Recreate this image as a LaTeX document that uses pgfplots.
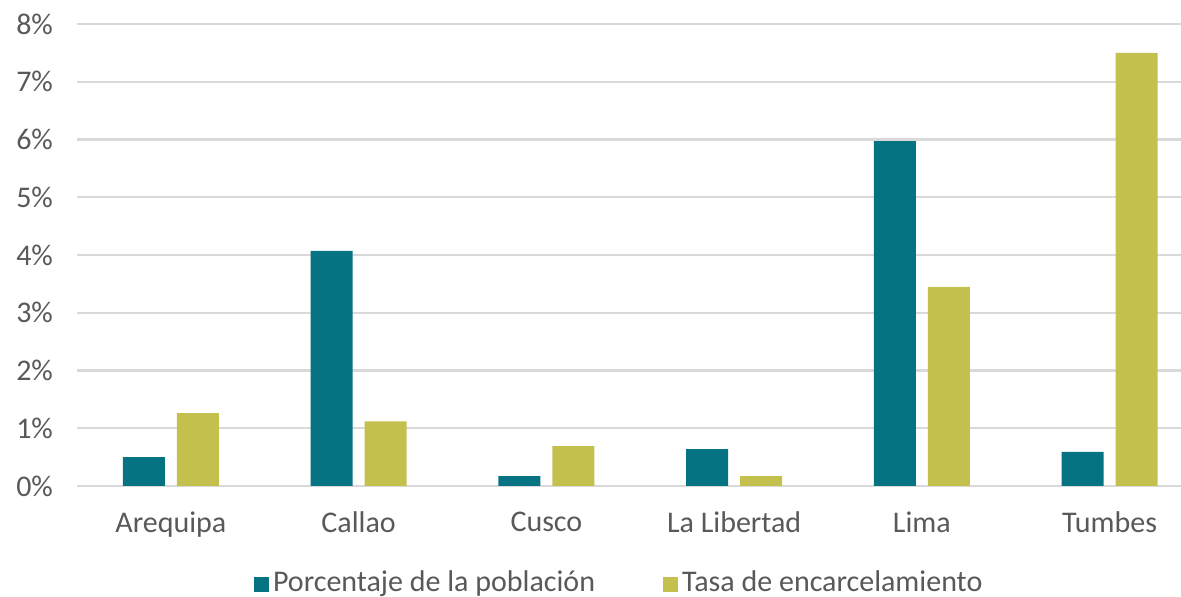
\documentclass[border=0pt]{standalone}
\usepackage{fontspec}
\setmainfont{Carlito}
\usepackage{pgfplots}
\pgfplotsset{compat=1.18}

\definecolor{teal}{RGB}{6,115,130}
\definecolor{olive}{RGB}{195,192,78}
\definecolor{txt}{RGB}{89,89,89}
\definecolor{gridc}{RGB}{217,217,217}

\begin{document}
\begin{tikzpicture}
\begin{axis}[
    name=ax,
    scale only axis,
    width=552pt, height=231pt,
    xmin=-0.5, xmax=5.38, ymin=0, ymax=8,
    axis line style={draw=none},
    xtick={0,...,5},
    xticklabels={Arequipa, Callao, Cusco, La Libertad, Lima, Tumbes},
    ytick={0,...,8},
    yticklabel={\pgfmathprintnumber{\tick}\%},
    /pgf/number format/assume math mode=true,
    major tick length=0pt,
    ymajorgrids, grid style={gridc, line width=1.2pt},
    ticklabel style={font=\fontsize{15}{18}\selectfont, text=txt},
    yticklabel style={xshift=-8.5pt},
    xticklabel style={yshift=-9.5pt},
    legend columns=2,
    legend style={at={(0.492,-0.21)}, anchor=center, draw=none,
        font=\fontsize{15}{18}\selectfont, text=txt,
        /tikz/every even column/.append style={column sep=32pt}},
    legend image code/.code={\fill[#1] (0pt,-4.5pt) rectangle (7.5pt,3pt);},
]
\addplot[ybar, bar width=21pt, bar shift=-13.5pt, fill=teal, draw=none] coordinates {
    (0,0.50)(1,4.07)(2,0.17)(3,0.64)(4,5.97)(5,0.59)};
\addlegendentry{Porcentaje de la población}
\addplot[ybar, bar width=21pt, bar shift=13.5pt, fill=olive, draw=none] coordinates {
    (0,1.26)(1,1.12)(2,0.69)(3,0.17)(4,3.45)(5,7.50)};
\addlegendentry{Tasa de encarcelamiento}
\end{axis}
\pgfresetboundingbox
\path[use as bounding box] ([xshift=-38.5pt,yshift=-55.5pt]ax.south west)
    rectangle ([yshift=12pt]ax.north east);
\end{tikzpicture}
\end{document}
